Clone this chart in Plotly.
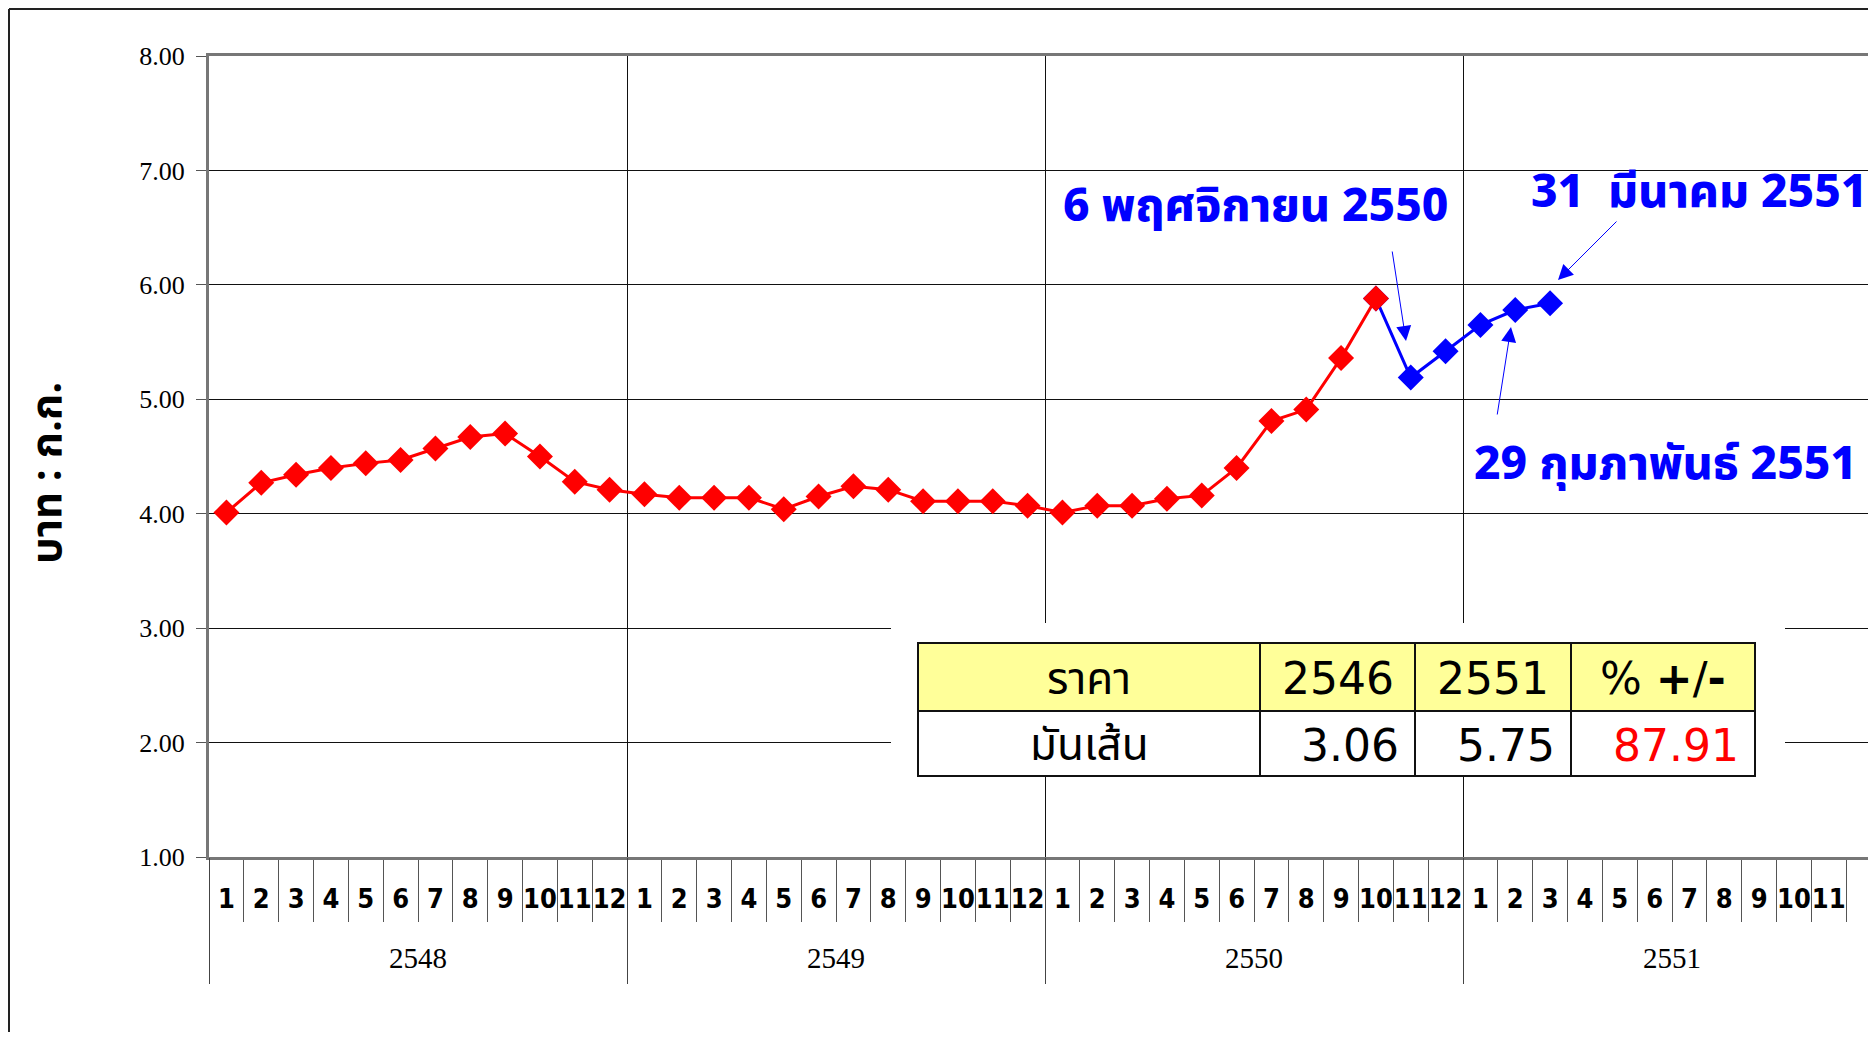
import plotly.graph_objects as go

# ---- data ----
years = ["2548", "2549", "2550", "2551"]
month_labels = ["1", "2", "3", "4", "5", "6", "7", "8", "9", "10", "11", "12"]

# 2548-1 .. 2550-10
red_prices = [4.01, 4.27, 4.34, 4.40, 4.44, 4.47, 4.57, 4.67, 4.70, 4.50, 4.28, 4.21,
              4.17, 4.14, 4.14, 4.14, 4.04, 4.15, 4.24, 4.21, 4.11, 4.11, 4.11, 4.07,
              4.01, 4.07, 4.07, 4.13, 4.16, 4.40, 4.81, 4.91, 5.36, 5.88]
# 2550-10 .. 2551-3
blue_prices = [5.88, 5.19, 5.42, 5.65, 5.78, 5.84]
blue_start = 33

table_header = ["ราคา", "2546", "2551", "% <b>+</b>/<b>-</b>"]
table_row = ["มันเส้น", "3.06", "5.75", "87.91"]

notes = ["6 พฤศจิกายน 2550", "31\u00a0\u00a0มีนาคม 2551", "29 กุมภาพันธ์ 2551"]

# ---- geometry (page has an 8px body margin, positions below are screen px) ----
OFF = 8
W, H = 1876 - 2 * OFF, 1040 - 2 * OFF
PL, PT, PB, PR = 209, 56, 857, 1868
slot = (1881 - PL) / 48
x_max = -0.5 + (PR - PL) / slot

def px(x):
    return (x - PL) / (PR - PL)

def py(y):
    return (PB - y) / (PB - PT)

def to_x(p):
    return (p - PL) / slot - 0.5

def to_y(p):
    return 1 + (PB - p) / ((PB - PT) / 7)

THAI = "Noto Sans Thai, Noto Sans Thai Looped, Loma, Garuda, Noto Sans, sans-serif"
SERIF = "Liberation Serif, Times New Roman, serif"
BLUE = "#0000ff"
RED = "#ff0000"

idx = list(range(len(red_prices)))
month_text = month_labels * len(years)

fig = go.Figure()
fig.add_trace(go.Scatter(
    x=list(range(blue_start, blue_start + len(blue_prices))), y=blue_prices,
    mode="lines+markers", line=dict(color=BLUE, width=3),
    marker=dict(symbol="diamond", size=20, color=BLUE), showlegend=False))
fig.add_trace(go.Scatter(
    x=idx, y=red_prices, xaxis="x2",
    mode="lines+markers", line=dict(color=RED, width=3),
    marker=dict(symbol="diamond", size=20, color=RED), showlegend=False))

fig.update_layout(
    width=W, height=H,
    margin=dict(l=PL - OFF, r=0, t=PT - OFF, b=H - (PB - OFF)),
    paper_bgcolor="white", plot_bgcolor="white",
    xaxis=dict(
        range=[-0.5, x_max], tickmode="array",
        tickvals=list(range(48)), ticktext=month_text, tickangle=0,
        ticks="outside", ticklen=16, tickcolor="rgba(0,0,0,0)",
        tickfont=dict(family="Liberation Sans Narrow, DejaVu Sans Condensed, Arial Narrow, Liberation Sans, sans-serif",
                      size=27, color="black", weight="bold"),
        minor=dict(ticks="outside", tickmode="linear", tick0=0.5, dtick=1,
                   ticklen=62, tickcolor="#555", tickwidth=1, showgrid=False),
        showgrid=False, zeroline=False,
        showline=True, linecolor="#777", linewidth=3, mirror=True),
    xaxis2=dict(
        overlaying="x", anchor="y", side="bottom",
        range=[-0.5, x_max], tickmode="array",
        tickvals=[-0.5 + 12 * i for i in range(len(years) + 1)],
        ticks="outside", ticklen=126, tickcolor="#444", tickwidth=1,
        showticklabels=False, showgrid=True, gridcolor="#111", gridwidth=1,
        zeroline=False, showline=False),
    yaxis=dict(
        range=[1, 8], tickmode="linear", tick0=1, dtick=1, tickformat=".2f",
        ticks="outside", ticklen=10, tickcolor="#555", ticklabelstandoff=6,
        tickfont=dict(family=SERIF, size=26, color="black"),
        showgrid=True, gridcolor="#111", gridwidth=1, zeroline=False,
        showline=True, linecolor="#777", linewidth=3, mirror=False),
)

shapes = [
    dict(type="line", xref="paper", yref="paper", x0=px(9), x1=px(9), y0=py(9), y1=py(1040),
         line=dict(color="#222", width=2)),
    dict(type="line", xref="paper", yref="paper", x0=px(9), x1=px(1876), y0=py(9), y1=py(9),
         line=dict(color="#222", width=2)),
    # white backdrop of the pasted table
    dict(type="rect", xref="paper", yref="paper", x0=px(891), x1=px(1785), y0=py(777), y1=py(623),
         fillcolor="white", line=dict(width=0), layer="above"),
]

col_edges = [918, 1260, 1415, 1571, 1755]
row_edges = [643, 711, 776]
fills = ["#ffff99", "white"]
for r in range(2):
    for c in range(4):
        shapes.append(dict(type="rect", xref="paper", yref="paper",
                           x0=px(col_edges[c]), x1=px(col_edges[c + 1]),
                           y0=py(row_edges[r + 1]), y1=py(row_edges[r]),
                           fillcolor=fills[r], line=dict(color="#111", width=2), layer="above"))
fig.update_layout(shapes=shapes)

ann = []
# year labels
for i, yr in enumerate(years):
    ann.append(dict(x=12 * i + 5.5, y=py(958), xref="x", yref="paper", text=yr, showarrow=False,
                    xanchor="center", yanchor="middle",
                    font=dict(family=SERIF, size=29, color="black")))
# y axis title
ann.append(dict(x=px(48), y=py(473), xref="paper", yref="paper", text="บาท : ก.ก.",
                textangle=-90, showarrow=False, xanchor="center", yanchor="middle",
                font=dict(family=THAI, size=42, color="black", weight="bold")))
# table text
tfont = "DejaVu Sans, " + THAI
for c in range(4):
    cx = (col_edges[c] + col_edges[c + 1]) / 2
    ann.append(dict(x=px(cx), y=py(678), xref="paper", yref="paper", text=table_header[c],
                    showarrow=False, xanchor="center", yanchor="middle",
                    font=dict(family=tfont, size=44, color="black")))
ann.append(dict(x=px((col_edges[0] + col_edges[1]) / 2), y=py(744), xref="paper", yref="paper",
                text=table_row[0], showarrow=False, xanchor="center", yanchor="middle",
                font=dict(family=tfont, size=44, color="black")))
for c in range(1, 4):
    ann.append(dict(x=px(col_edges[c + 1] - 14), y=py(745), xref="paper", yref="paper",
                    xanchor="right", yanchor="middle", text=table_row[c], showarrow=False,
                    font=dict(family=tfont, size=44, color=RED if c == 3 else "black")))
# blue notes
note_pos = [(1255, 207), (1699, 193), (1665, 465)]
for t, (nx, ny) in zip(notes, note_pos):
    ann.append(dict(x=to_x(nx), y=to_y(ny), xref="x", yref="y", text=t, showarrow=False,
                    xanchor="center", yanchor="middle",
                    font=dict(family=THAI, size=46, color=BLUE, weight=800)))
# arrows: (tip, tail) in px
arrows = [((1406, 341), (1392, 250)), ((1558, 280), (1618, 220)), ((1511, 327), (1497, 416))]
for (tx, ty), (sx, sy) in arrows:
    ann.append(dict(x=to_x(tx), y=to_y(ty), xref="x", yref="y", text="", showarrow=True,
                    ax=sx - tx, ay=sy - ty, arrowhead=2, arrowsize=3, arrowwidth=1,
                    arrowcolor=BLUE, standoff=0))
fig.update_layout(annotations=ann)

fig.write_html("out.html")
